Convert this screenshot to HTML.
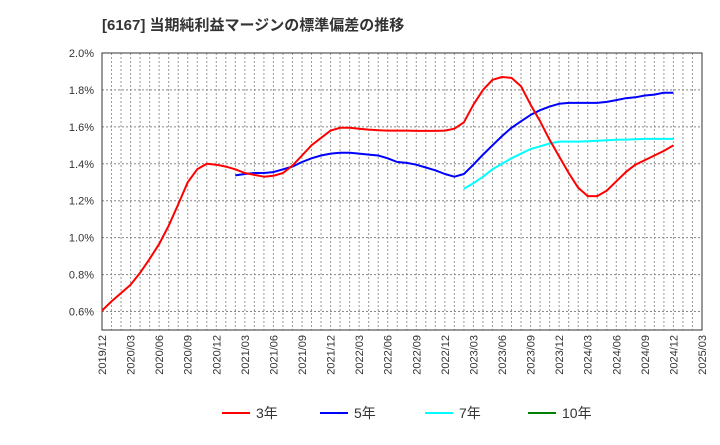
<!DOCTYPE html>
<html><head><meta charset="utf-8"><style>
body{margin:0;background:#fff;font-family:"Liberation Sans","Noto Sans CJK JP",sans-serif;}
</style></head><body>
<svg id="chart" width="720" height="440" xmlns="http://www.w3.org/2000/svg" font-family="Liberation Sans, Noto Sans CJK JP, sans-serif">
<text x="102" y="30" font-size="15" font-weight="bold" fill="#333">[6167]  当期純利益マージンの標準偏差の推移</text>
<g id="grid"></g><g id="axes"></g><g id="series"></g><g id="legend"></g>
</svg>
<script>
const xTickLabels=["2019/12","2020/03","2020/06","2020/09","2020/12","2021/03","2021/06","2021/09","2021/12","2022/03","2022/06","2022/09","2022/12","2023/03","2023/06","2023/09","2023/12","2024/03","2024/06","2024/09","2024/12","2025/03"];
const yTickValues=[0.6,0.8,1.0,1.2,1.4,1.6,1.8,2.0];
const red3=[0.605,0.655,0.70,0.745,0.81,0.885,0.965,1.065,1.18,1.30,1.37,1.40,1.395,1.385,1.37,1.35,1.34,1.33,1.335,1.35,1.39,1.445,1.50,1.54,1.58,1.595,1.595,1.59,1.585,1.582,1.58,1.58,1.58,1.578,1.578,1.578,1.58,1.59,1.625,1.72,1.80,1.855,1.87,1.865,1.82,1.72,1.63,1.53,1.44,1.35,1.27,1.225,1.225,1.255,1.305,1.355,1.395,1.42,1.445,1.47,1.50];
const blue5Start=14;
const blue5=[1.337,1.345,1.35,1.35,1.355,1.37,1.385,1.41,1.43,1.445,1.455,1.46,1.46,1.455,1.45,1.445,1.43,1.41,1.405,1.395,1.38,1.365,1.345,1.33,1.345,1.395,1.45,1.50,1.55,1.595,1.63,1.665,1.69,1.71,1.725,1.73,1.73,1.73,1.73,1.735,1.745,1.755,1.76,1.77,1.775,1.785,1.785];
const cyan7Start=38;
const cyan7=[1.265,1.295,1.33,1.37,1.40,1.43,1.455,1.48,1.495,1.51,1.52,1.52,1.52,1.522,1.525,1.527,1.53,1.531,1.533,1.535,1.535,1.535,1.535];
const green10=[];
const L=102,R=702,T=53,B=330,YMIN=0.5,YMAX=2.0,NM=63;
const xS=i=>L+(R-L)*i/NM;
const yS=v=>B-(B-T)*(v-YMIN)/(YMAX-YMIN);
const NS="http://www.w3.org/2000/svg";
function mk(tag,attrs,parent){const e=document.createElementNS(NS,tag);for(const k in attrs)e.setAttribute(k,attrs[k]);parent.appendChild(e);return e;}
const grid=document.getElementById('grid'),axes=document.getElementById('axes'),ser=document.getElementById('series'),leg=document.getElementById('legend');
for(let m=1;m<NM;m++){const l=mk('line',{x1:xS(m),x2:xS(m),y1:T,y2:B,stroke:'#999','stroke-width':1,'stroke-dasharray':'2,2'},grid);

}
yTickValues.forEach(v=>{const l=mk('line',{x1:L,x2:R,y1:yS(v),y2:yS(v),stroke:'#888','stroke-width':1,'stroke-dasharray':'2,2'},grid);


const t=mk('text',{x:L-8,y:yS(v)+4,'text-anchor':'end','font-size':11,fill:'#333'},axes);t.textContent=v.toFixed(1)+'%';

});
xTickLabels.forEach((s,k)=>{const x=xS(k*3);const t=mk('text',{x:0,y:0,transform:`translate(${x+4},${B+5}) rotate(-90)`,'text-anchor':'end','font-size':11,fill:'#333'},axes);t.textContent=s;

});
const frame=mk('rect',{x:L,y:T,width:R-L,height:B-T,fill:'none',stroke:'#333','stroke-width':1},axes);


function draw(vals,start,color,name){if(!vals.length)return;const d=vals.map((v,i)=>(i?'L':'M')+xS(start+i).toFixed(1)+','+yS(v).toFixed(1)).join(' ');
const p=mk('path',{d:d,fill:'none',stroke:color,'stroke-width':2,'stroke-linejoin':'round'},ser);

}
draw(cyan7,cyan7Start,'#00ffff','line-7y');
draw(blue5,blue5Start,'#0000ff','line-5y');
draw(red3,0,'#ff0000','line-3y');
draw(green10,0,'#008000','line-10y');
[['3年','#ff0000',222],['5年','#0000ff',320],['7年','#00ffff',425],['10年','#008000',528]].forEach(([lab,c,x])=>{
const g=mk('g',{},leg);


mk('line',{x1:x,x2:x+28,y1:413,y2:413,stroke:c,'stroke-width':2},g);
const t=mk('text',{x:x+34,y:418,'font-size':14,fill:'#333'},g);t.textContent=lab;});
</script>
</body></html>
